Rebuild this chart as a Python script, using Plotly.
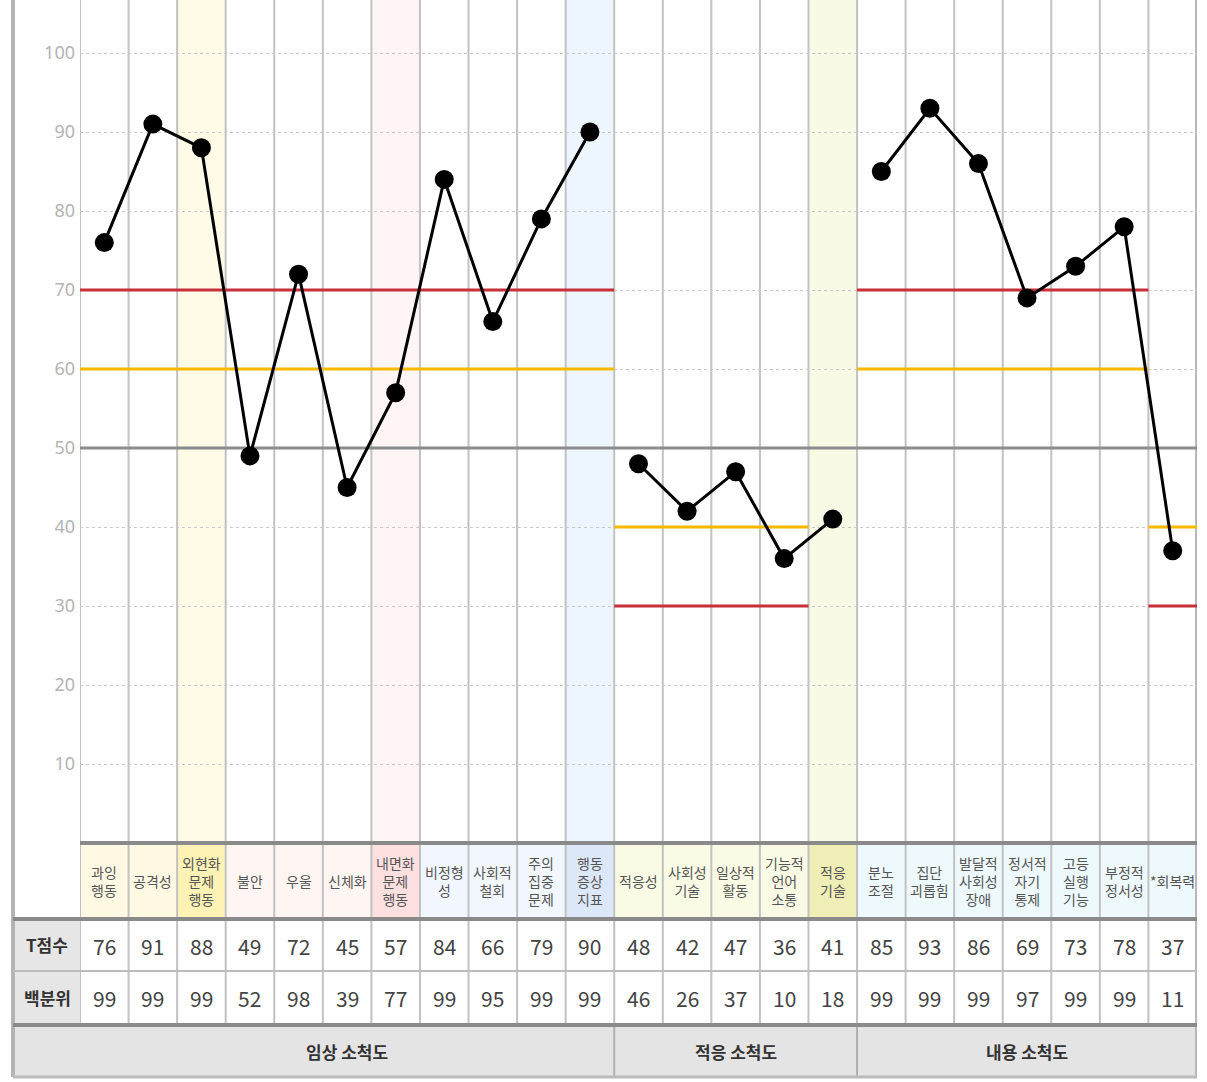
import plotly.graph_objects as go

# ---------------- data ----------------
categories = ["과잉<br>행동", "공격성", "외현화<br>문제<br>행동", "불안", "우울", "신체화",
              "내면화<br>문제<br>행동", "비정형<br>성", "사회적<br>철회", "주의<br>집중<br>문제",
              "행동<br>증상<br>지표",
              "적응성", "사회성<br>기술", "일상적<br>활동", "기능적<br>언어<br>소통", "적응<br>기술",
              "분노<br>조절", "집단<br>괴롭힘", "발달적<br>사회성<br>장애", "정서적<br>자기<br>통제",
              "고등<br>실행<br>기능", "부정적<br>정서성", "*회복력"]
t_scores = [76, 91, 88, 49, 72, 45, 57, 84, 66, 79, 90,
            48, 42, 47, 36, 41,
            85, 93, 86, 69, 73, 78, 37]
percentiles = [99, 99, 99, 52, 98, 39, 77, 99, 95, 99, 99,
               46, 26, 37, 10, 18,
               99, 99, 99, 97, 99, 99, 11]
group_names = ["임상 소척도", "적응 소척도", "내용 소척도"]
group_start = [0, 11, 16]
group_end = [10, 15, 22]
row_headers = ["T점수", "백분위"]
y_ticks = [10, 20, 30, 40, 50, 60, 70, 80, 90, 100]
mid_value = 50
# threshold segments: (first column, last column, value, kind)
thr_first = [0, 0, 11, 11, 16, 16, 22, 22]
thr_last = [10, 10, 14, 14, 21, 21, 22, 22]
thr_value = [70, 60, 40, 30, 70, 60, 40, 30]
thr_kind = ["red", "yellow", "yellow", "red", "red", "yellow", "yellow", "red"]

# ---------------- styles ----------------
W, H = 1207, 1082
RED = "#c7303a"
YEL = "#f6b900"
FONT = "Noto Sans CJK KR"
label_bg = (["#fff9e3"] * 2 + ["#fff2b5"] + ["#fff5f3"] * 3 + ["#ffe0e0"] + ["#f2f7ff"] * 3 +
            ["#dce8fa"] + ["#fafbe4"] * 4 + ["#eeeeb6"] + ["#eef9fd"] * 7)
plot_tint = {2: "#fffbe6", 6: "#fff5f5", 10: "#edf5ff", 15: "#f8fae6"}

N = len(categories)
X0_PX, X1_PX = 80, 1197
PLOT_BOTTOM_PX = 843


def py(p):
    return 1 - p / H


def pxx(p):
    return p / W


fig = go.Figure()
shapes = []
annotations = []

# plot area column tints
for i, c in plot_tint.items():
    shapes.append(dict(type="rect", xref="x", yref="paper", x0=i - 0.5, x1=i + 0.5,
                       y0=py(PLOT_BOTTOM_PX), y1=1, fillcolor=c, line_width=0, layer="below"))
# label row backgrounds
for i in range(N):
    shapes.append(dict(type="rect", xref="x", yref="paper", x0=i - 0.5, x1=i + 0.5,
                       y0=py(919), y1=py(PLOT_BOTTOM_PX), fillcolor=label_bg[i], line_width=0,
                       layer="below"))
# header column backgrounds
shapes.append(dict(type="rect", xref="paper", yref="paper", x0=pxx(13), x1=pxx(80),
                   y0=py(1025), y1=py(919), fillcolor="#e6e6e6", line_width=0, layer="below"))
# group row background
shapes.append(dict(type="rect", xref="paper", yref="paper", x0=pxx(13), x1=pxx(1197),
                   y0=py(1077), y1=py(1025), fillcolor="#e4e4e4", line_width=0, layer="below"))

# vertical column lines
for i in range(N + 1):
    last = i == N
    shapes.append(dict(type="line", xref="x", yref="paper", x0=i - 0.5, x1=i - 0.5,
                       y0=py(1077 if last else 1025), y1=1,
                       line=dict(color="#b8b8b8" if last else "#c2c2c2", width=4 if last else 2),
                       layer="between"))
# left outer border
shapes.append(dict(type="line", xref="paper", yref="paper", x0=pxx(13), x1=pxx(13),
                   y0=py(1077), y1=1, line=dict(color="#b4b4b4", width=4)))
# group dividers in group row
for s in group_start[1:]:
    shapes.append(dict(type="line", xref="x", yref="paper", x0=s - 0.5, x1=s - 0.5,
                       y0=py(1077), y1=py(1025), line=dict(color="#b0b0b0", width=2)))
# horizontal table lines
shapes.append(dict(type="line", xref="paper", yref="paper", x0=pxx(80), x1=pxx(1197),
                   y0=py(843), y1=py(843), line=dict(color="#8a8a8a", width=4)))
for yy, col, wd in [(919, "#8a8a8a", 4), (971, "#bcbcbc", 2), (1025, "#8a8a8a", 4),
                    (1077, "#bcbcbc", 3)]:
    shapes.append(dict(type="line", xref="paper", yref="paper", x0=pxx(13), x1=pxx(1197),
                       y0=py(yy), y1=py(yy), line=dict(color=col, width=wd)))

# mid line at 50
fig.add_trace(go.Scatter(x=[-0.5, N - 0.5], y=[mid_value, mid_value], mode="lines",
                         line=dict(color="#8c8c8c", width=3), hoverinfo="skip"))
# thresholds
for a, b, v, k in zip(thr_first, thr_last, thr_value, thr_kind):
    fig.add_trace(go.Scatter(x=[a - 0.5, b + 0.5], y=[v, v], mode="lines",
                             line=dict(color=RED if k == "red" else YEL, width=3),
                             hoverinfo="skip"))
# score lines
for s, e in zip(group_start, group_end):
    xs = list(range(s, e + 1))
    fig.add_trace(go.Scatter(x=xs, y=t_scores[s:e + 1], mode="lines+markers",
                             line=dict(color="black", width=3),
                             marker=dict(color="black", size=19), cliponaxis=False))

C = dict(showarrow=False, xanchor="center", yanchor="middle")
# text: category labels and table values
for i in range(N):
    annotations.append(dict(x=i, y=py(881), xref="x", yref="paper", text=categories[i],
                            font=dict(family=FONT, size=14, color="#555555"), **C))
    annotations.append(dict(x=i, y=py(946), xref="x", yref="paper", text=str(t_scores[i]),
                            font=dict(family=FONT, size=21, color="#444444"), **C))
    annotations.append(dict(x=i, y=py(998), xref="x", yref="paper", text=str(percentiles[i]),
                            font=dict(family=FONT, size=21, color="#444444"), **C))
for t, yy in zip(row_headers, [944, 997]):
    annotations.append(dict(x=pxx(47), y=py(yy), xref="paper", yref="paper", text="<b>" + t + "</b>",
                            font=dict(family=FONT, size=17, color="#333333"), **C))
for name, s, e in zip(group_names, group_start, group_end):
    annotations.append(dict(x=(s + e) / 2, y=py(1051), xref="x", yref="paper",
                            text="<b>" + name + "</b>",
                            font=dict(family=FONT, size=17, color="#333333"), **C))

fig.update_layout(
    width=W, height=H, margin=dict(l=0, r=0, t=0, b=0),
    paper_bgcolor="white", plot_bgcolor="rgba(0,0,0,0)", showlegend=False,
    shapes=shapes, annotations=annotations,
    xaxis=dict(domain=[pxx(X0_PX), pxx(X1_PX)], range=[-0.5, N - 0.5], showgrid=False,
               zeroline=False, showticklabels=False, fixedrange=True),
    yaxis=dict(domain=[py(PLOT_BOTTOM_PX), 1], range=[0, 50 + 448 / 7.9], tickvals=y_ticks,
               showgrid=True, gridcolor="#c9c9c9", griddash="dot", gridwidth=1,
               zeroline=False, showline=False, ticks="", ticklabelstandoff=4,
               tickfont=dict(family="Noto Sans", size=18, color="#b4b4b4"), fixedrange=True),
)

fig.write_html("out.html", config={"displayModeBar": False},
               post_script="document.body.style.margin='0';")
